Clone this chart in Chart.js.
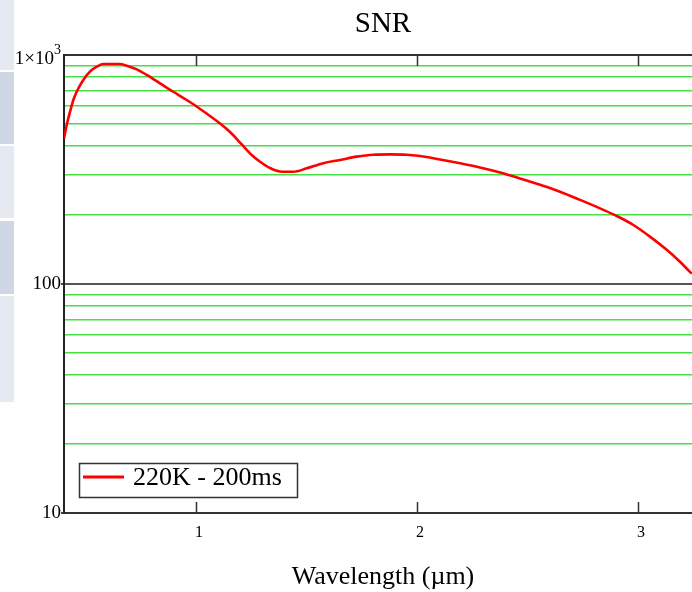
<!DOCTYPE html>
<html>
<head>
<meta charset="utf-8">
<script src="https://cdn.jsdelivr.net/npm/chart.js@4"></script>
<style>
  html, body { margin: 0; padding: 0; background: #ffffff; overflow: hidden; }
  #wrap { position: relative; width: 692px; height: 592px; }
  canvas { position: absolute; left: 0; top: 0; }
  .panel { position: absolute; left: 0; width: 14px; }
</style>
</head>
<body>
<div id="wrap">
  <div class="panel" style="top:0;height:70px;background:#e4e9f2"></div>
  <div class="panel" style="top:72px;height:72px;background:#cfd6e4"></div>
  <div class="panel" style="top:146px;height:72px;background:#e4e9f2"></div>
  <div class="panel" style="top:221px;height:73px;background:#cfd6e4"></div>
  <div class="panel" style="top:296px;height:106px;background:#e4e9f2"></div>
  <canvas id="c" width="692" height="592"></canvas>
</div>
<script>
// ---- data ----
const chartTitle = 'SNR';
const xAxisTitle = 'Wavelength (\u00b5m)';
const seriesLabel = '220K - 200ms';
const wavelength = [
  0.403, 0.415, 0.430, 0.445, 0.460, 0.490, 0.520, 0.551, 0.581, 0.611, 0.656,
  0.686, 0.732, 0.777, 0.837, 0.897, 0.958, 1.003, 1.048, 1.109, 1.154, 1.207,
  1.252, 1.290, 1.335, 1.380, 1.440, 1.501, 1.576, 1.652, 1.727, 1.802, 1.878,
  1.953, 2.014, 2.104, 2.195, 2.285, 2.376, 2.466, 2.557, 2.647, 2.738, 2.828,
  2.904, 2.979, 3.054, 3.130, 3.190, 3.235, 3.244
];
const snr = [
  433, 495, 565, 636, 691, 778, 846, 889, 913, 913, 913,
  898, 866, 818, 752, 691, 636, 596, 555, 502, 461, 407,
  366, 342, 321, 310, 309, 320, 337, 348, 360, 367, 368,
  367, 362, 350, 337, 323, 307, 289, 271, 253, 233, 214,
  198, 181, 161, 141, 125, 113, 111
];
const xTicks = [1, 2, 3];
const yTicks = [10, 20, 30, 40, 50, 60, 70, 80, 90, 100, 200, 300, 400, 500, 600, 700, 800, 900, 1000];
const xRange = [0.4027, 3.2443];
const yRange = [10, 1000];
const yLabels = { 10: '10', 100: '100' };
const topLabelBase = '1\u00d710';
const topLabelExp = '3';

const isDecade = v => Math.abs(Math.log10(v) - Math.round(Math.log10(v))) < 1e-9;
const SERIF = '"Liberation Serif", "Times New Roman", serif';

const overlay = {
  id: 'overlay',
  afterDraw(chart) {
    const ctx = chart.ctx;
    const a = chart.chartArea;
    const xs = chart.scales.x;
    const ys = chart.scales.y;
    ctx.save();
    // x tick marks inside the plot (top and bottom)
    ctx.strokeStyle = '#333';
    ctx.lineWidth = 1.5;
    xTicks.forEach(t => {
      const px = Math.round(xs.getPixelForValue(t)) + 0.5;
      ctx.beginPath();
      ctx.moveTo(px, a.bottom); ctx.lineTo(px, a.bottom - 11);
      ctx.moveTo(px, a.top); ctx.lineTo(px, a.top + 11);
      ctx.stroke();
    });
    // top y label with superscript
    const py = ys.getPixelForValue(yRange[1]);
    ctx.fillStyle = '#000';
    ctx.textBaseline = 'alphabetic';
    ctx.textAlign = 'right';
    ctx.font = '19px ' + SERIF;
    ctx.fillText(topLabelBase, 54, py + 8.5);
    ctx.textAlign = 'left';
    ctx.font = '14px ' + SERIF;
    ctx.fillText(topLabelExp, 54, py - 1);
    // title
    ctx.textAlign = 'center';
    ctx.font = '29px ' + SERIF;
    ctx.fillText(chartTitle, 383, 32);
    // x axis title
    ctx.font = '26px ' + SERIF;
    ctx.fillText(xAxisTitle, 383, 584);
    // legend
    const ds = chart.data.datasets[0];
    ctx.fillStyle = '#ffffff';
    ctx.fillRect(79, 463, 219, 35);
    ctx.strokeStyle = '#333';
    ctx.lineWidth = 1.5;
    ctx.strokeRect(79.5, 463.5, 218, 34);
    ctx.strokeStyle = ds.borderColor;
    ctx.lineWidth = 3;
    ctx.beginPath();
    ctx.moveTo(83, 477); ctx.lineTo(124, 477);
    ctx.stroke();
    ctx.fillStyle = '#000';
    ctx.textAlign = 'left';
    ctx.font = '26px ' + SERIF;
    ctx.fillText(ds.label, 133, 485);
    ctx.restore();
  }
};

new Chart(document.getElementById('c'), {
  type: 'line',
  data: {
    datasets: [{
      label: seriesLabel,
      data: wavelength.map((w, i) => ({ x: w, y: snr[i] })),
      borderColor: '#ff0000',
      borderWidth: 2.6,
      pointRadius: 0,
      cubicInterpolationMode: 'monotone',
      fill: false
    }]
  },
  options: {
    responsive: false,
    animation: false,
    layout: { padding: { top: 55, right: 0, left: 0, bottom: 0 } },
    plugins: {
      legend: { display: false },
      title: { display: false },
      tooltip: { enabled: false }
    },
    scales: {
      x: {
        type: 'linear',
        min: xRange[0],
        max: xRange[1],
        afterBuildTicks: s => { s.ticks = xTicks.map(v => ({ value: v })); },
        afterFit: s => { s.height = 79; s.paddingLeft = 0; s.paddingRight = 0; },
        grid: { display: false, drawTicks: false },
        border: { display: true, color: '#333', width: 2 },
        ticks: {
          color: '#000',
          padding: 10,
          labelOffset: 3,
          autoSkip: false,
          maxRotation: 0,
          font: { family: SERIF, size: 16 },
          callback: v => String(v)
        }
      },
      y: {
        type: 'logarithmic',
        min: yRange[0],
        max: yRange[1],
        afterBuildTicks: s => { s.ticks = yTicks.map(v => ({ value: v, major: isDecade(v) })); },
        afterFit: s => { s.width = 64; s.paddingTop = 0; s.paddingBottom = 0; },
        border: { display: true, color: '#222', width: 2 },
        grid: {
          drawTicks: true,
          tickLength: 3,
          color: c => {
            const v = c.tick && c.tick.value;
            if (v === undefined) return 'transparent';
            if (isDecade(v)) return v === yRange[0] ? 'transparent' : (v === yRange[1] ? '#333' : '#555');
            return '#44e044';
          },
          lineWidth: c => {
            const v = c.tick && c.tick.value;
            return v !== undefined && isDecade(v) ? 2 : 1.6;
          },
          tickColor: c => {
            const v = c.tick && c.tick.value;
            return v !== undefined && isDecade(v) && v !== yRange[1] ? '#444' : 'transparent';
          }
        },
        ticks: {
          color: '#000',
          padding: 0,
          autoSkip: false,
          font: { family: SERIF, size: 19 },
          callback: v => yLabels[v] !== undefined ? yLabels[v] : ''
        }
      }
    }
  },
  plugins: [overlay]
});
</script>
</body>
</html>
